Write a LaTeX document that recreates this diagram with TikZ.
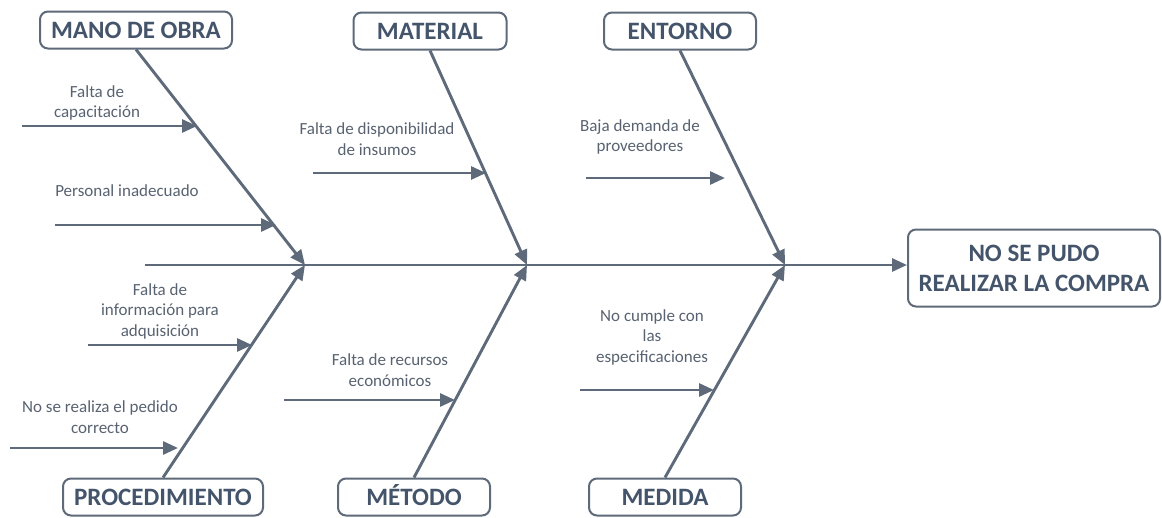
\documentclass[tikz,border=0pt]{standalone}
\usepackage{fontspec}
\setmainfont{Carlito}
\usepackage{tikz}
\usetikzlibrary{arrows.meta,positioning,calc}
\definecolor{fishgrey}{RGB}{94,106,121}
\definecolor{boxtext}{RGB}{68,84,106}
\definecolor{causetext}{RGB}{88,98,112}

\begin{document}
\begin{tikzpicture}[x=1pt,y=-1pt,
  framebox/.style={draw=fishgrey,line width=2pt,rounded corners=8pt,fill=white,text=boxtext,
    font=\fontsize{25}{30}\selectfont\bfseries,inner sep=0pt},
  cat/.style={framebox,minimum height=37pt,text height=16pt,text depth=0pt},
  effect/.style={framebox,align=center,minimum width=252pt,minimum height=77pt},
  cause/.style={text=causetext,font=\fontsize{17}{20.5}\selectfont,align=center,inner sep=0pt},
  spineline/.style={draw=fishgrey,line width=2.9pt,-{Triangle[length=15pt,width=13pt]}},
  twig/.style={spineline}]
\useasboundingbox (0,0) rectangle (1162,517);
% categorias
\node[cat,minimum width=192pt] (mano) at (136,30) {MANO DE OBRA};
\node[cat,minimum width=153pt] (material) at (430,31) {MATERIAL};
\node[cat,minimum width=152pt] (entorno) at (680,31) {ENTORNO};
\node[cat,minimum width=200pt] (proc) at (163,497) {PROCEDIMIENTO};
\node[cat,minimum width=152pt] (metodo) at (414,497) {MÉTODO};
\node[cat,minimum width=152pt] (medida) at (665,497) {MEDIDA};
\node[effect] (efecto) at (1034,268) {NO SE PUDO\\REALIZAR LA COMPRA};
% espina
\coordinate (tail) at (145,265);
\coordinate (j1) at (305,265);
\coordinate (j2) at (527,265);
\coordinate (j3) at (785,265);
\draw[spineline] (tail) -- (tail -| efecto.west);
\draw[spineline] (mano.south) -- (j1);
\draw[spineline] (proc.north) -- (j1);
\draw[spineline] (material.south) -- (j2);
\draw[spineline] (metodo.north) -- (j2);
\draw[spineline] (entorno.south) -- (j3);
\draw[spineline] (medida.north) -- (j3);
% causas
\node[cause] (c1) at (97,103) {Falta de\\capacitación};
\coordinate (a1) at (22,126); \coordinate (b1) at (197,126);
\draw[twig] (a1) -- (b1);
\node[cause] (c2) at (127,191) {Personal inadecuado};
\coordinate (a2) at (55,225); \coordinate (b2) at (276,225);
\draw[twig] (a2) -- (b2);
\node[cause] (c3) at (160,311) {Falta de\\información para\\adquisición};
\coordinate (a3) at (88,345); \coordinate (b3) at (252,345);
\draw[twig] (a3) -- (b3);
\node[cause] (c4) at (100,417) {No se realiza el pedido\\correcto};
\coordinate (a4) at (10,448); \coordinate (b4) at (178,448);
\draw[twig] (a4) -- (b4);
\node[cause] (c5) at (377,139) {Falta de disponibilidad\\de insumos};
\coordinate (a5) at (313,173); \coordinate (b5) at (486,173);
\draw[twig] (a5) -- (b5);
\node[cause] (c6) at (390,370) {Falta de recursos\\económicos};
\coordinate (a6) at (284,400); \coordinate (b6) at (455,400);
\draw[twig] (a6) -- (b6);
\node[cause] (c7) at (640,137) {Baja demanda de\\proveedores};
\coordinate (a7) at (586,178); \coordinate (b7) at (725,178);
\draw[twig] (a7) -- (b7);
\node[cause] (c8) at (652,337) {No cumple con\\las\\especificaciones};
\coordinate (a8) at (580,390); \coordinate (b8) at (714,390);
\draw[twig] (a8) -- (b8);
\end{tikzpicture}
\end{document}
